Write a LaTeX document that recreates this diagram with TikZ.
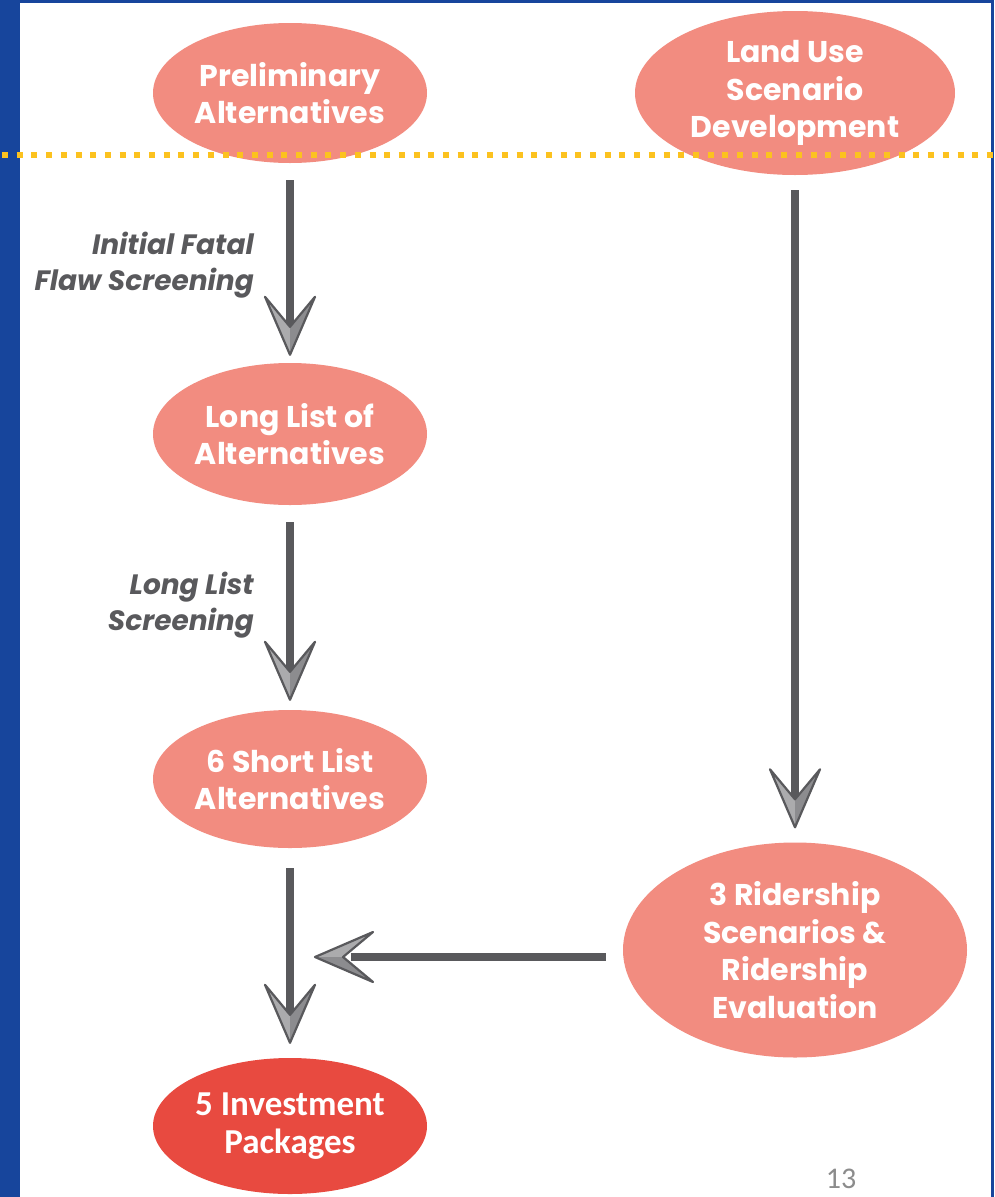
\documentclass[tikz,border=0pt]{standalone}
\usepackage{fontspec}
\setmainfont{Poppins}
\newfontfamily\pagefont{Carlito}
\usetikzlibrary{shapes.geometric}
\definecolor{frameblue}{rgb}{0.09,0.27,0.61}
\definecolor{salmon}{rgb}{0.95,0.55,0.50}
\definecolor{investred}{rgb}{0.91,0.29,0.25}
\definecolor{shaftgray}{rgb}{0.35,0.35,0.36}
\definecolor{headlight}{rgb}{0.67,0.67,0.68}
\definecolor{headdark}{rgb}{0.55,0.55,0.56}
\definecolor{dotyellow}{rgb}{0.99,0.76,0.12}
\definecolor{pagegray}{rgb}{0.55,0.55,0.55}

\tikzset{
  stage/.style={ellipse, fill=salmon, text=white, inner sep=0pt, align=center,
    font=\bfseries\fontsize{30}{37.5}\selectfont},
  shaft/.style={draw=shaftgray, line width=8pt},
  note/.style={text=shaftgray, inner sep=0pt, align=right, anchor=east,
    font=\bfseries\itshape\fontsize{28}{36}\selectfont},
  head/.pic={
    \fill[headlight] (0,0) -- (-25,-58) -- (0,-28) -- cycle;
    \fill[headdark] (0,0) -- (0,-28) -- (25,-58) -- cycle;
    \draw[shaftgray, line width=2.2pt, line join=round] (0,0) -- (-25,-58) -- (0,-28) -- (25,-58) -- cycle;
  }
}

\begin{document}
\begin{tikzpicture}[line cap=butt,x=1pt,y=-1pt]
\useasboundingbox (0,0) rectangle (994,1197);
\fill[white] (0,0) rectangle (994,1197);
% frame
\fill[frameblue] (0,0) rectangle (20,1197);
\fill[frameblue] (0,0) rectangle (994,3);
\fill[frameblue] (991,0) rectangle (994,1197);

% stages
\node[stage, minimum width=274, minimum height=140] (pre) at (290,93) {Preliminary\\Alternatives};
\node[stage, minimum width=320, minimum height=164] (land) at (795,93) {Land Use\\Scenario\\Development};
\node[stage, minimum width=274, minimum height=142] (long) at (290,434) {Long List of\\Alternatives};
\node[stage, minimum width=274, minimum height=138] (short) at (290,779) {6 Short List\\Alternatives};
\node[stage, minimum width=344, minimum height=215] (rider) at (795,950) {3 Ridership\\Scenarios \&\\Ridership\\Evaluation};
\node[stage, fill=investred, minimum width=274, minimum height=136,
  font=\pagefont\bfseries\fontsize{35}{38}\selectfont] (invest) at (290,1126) {5 Investment\\Packages};

% arrows
\draw[shaft] ([yshift=-17]pre.south) -- ([yshift=34]long.north);
\pic at ([yshift=8]long.north) {head};
\draw[shaft] ([yshift=-17]long.south) -- ([yshift=36]short.north);
\pic at ([yshift=10]short.north) {head};
\draw[shaft] ([yshift=-20]short.south) -- ([yshift=41]invest.north);
\pic at ([yshift=15]invest.north) {head};
\draw[shaft] ([yshift=-15]land.south) -- ([yshift=41]rider.north);
\pic at ([yshift=15]rider.north) {head};
\coordinate (join) at (315,957);
\draw[shaft] ([xshift=-17]rider.west |- join) -- ([xshift=36]join);
\pic[rotate=-90] at (join) {head};

% screening labels
\node[note] (fatal) at (254,265) {Initial Fatal\\Flaw Screening};
\node[note] (screen) at (254,605) {Long List\\Screening};

% page number
\node[text=pagegray, font=\pagefont\fontsize{30}{30}\selectfont, inner sep=0pt] (page) at (841,1179) {13};

% boundary line
\draw[dotyellow, line width=6pt, dash pattern=on 6pt off 8.7pt] (2,155) -- (994,155);
\end{tikzpicture}
\end{document}
